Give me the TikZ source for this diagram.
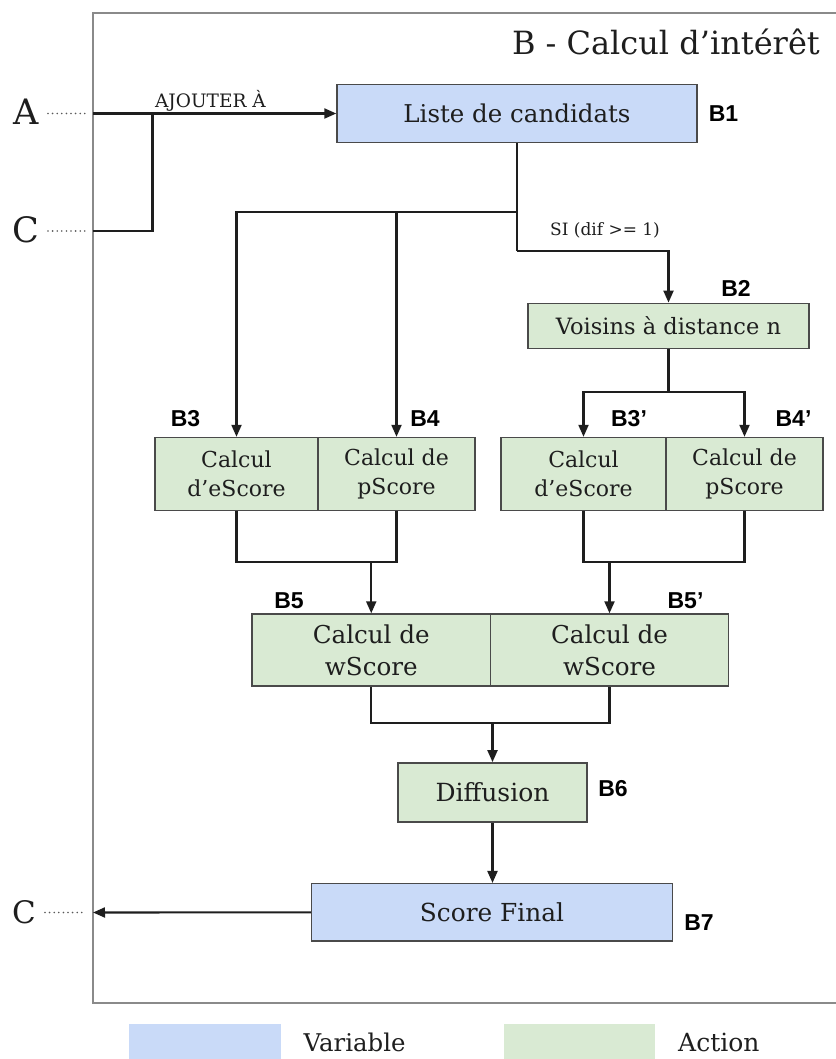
\documentclass[tikz,border=0pt]{standalone}
\usepackage{fontspec}
\setmainfont{DejaVu Serif}
\newfontfamily\labfont{Liberation Sans}
\usetikzlibrary{arrows.meta}
\definecolor{varblue}{HTML}{C9DAF8}
\definecolor{actgreen}{HTML}{D9EAD3}
\definecolor{edgegray}{HTML}{4A4A4A}
\definecolor{framegray}{HTML}{8A8A8A}
\definecolor{inkc}{HTML}{1E1E1E}
\begin{document}
\begin{tikzpicture}[x=1pt,y=-1pt,
  box/.style={draw=edgegray, line width=1.4pt, inner sep=0pt, align=center, text=inkc},
  varbox/.style={box, fill=varblue},
  actbox/.style={box, fill=actgreen},
  tag/.style={font=\labfont\bfseries\fontsize{23}{23}\selectfont, text=black, inner sep=0pt},
  conn/.style={line width=2.1pt, draw=inkc},
  arr/.style={conn, -{Triangle[length=12pt,width=10pt]}},
  dots/.style={line width=1.8pt, line cap=round, dash pattern=on 0pt off 4.6pt, draw=black!65},
  big/.style={font=\fontsize{35}{35}\selectfont, text=inkc, inner sep=0pt},
  small/.style={font=\fontsize{17}{17}\selectfont, text=inkc, inner sep=0pt},
]
\useasboundingbox (0,0) rectangle (835,1059);

% frame
\draw[framegray, line width=2pt] (850,13) -- (93,13) -- (93,1003) -- (850,1003);

% title
\node[anchor=base east, font=\fontsize{32}{32}\selectfont, text=inkc, inner sep=0pt] (title) at (820,55) {B - Calcul d’intérêt};

% external letters
\node[big, anchor=base] (A) at (26,125) {A};
\node[big, anchor=base] (Ctop) at (26,243) {C};
\node[big, anchor=base, font=\fontsize{31}{31}\selectfont] (Cbot) at (24,923.5) {C};
\coordinate (aIn) at (93,113.5);
\coordinate (cIn) at (93,231);
\coordinate (cOut) at (93,912.5);
\draw[dots] (48,113.5) -- (87,113.5);
\draw[dots] (48,231) -- (87,231);
\draw[dots] (45,912.5) -- (84,912.5);

% boxes
\node[varbox, minimum width=360pt, minimum height=58pt, font=\fontsize{24.5}{29}\selectfont] (B1) at (517,113.5) {Liste de candidats};
\node[actbox, minimum width=281pt, minimum height=45pt, font=\fontsize{22.5}{27}\selectfont] (B2) at (668.5,325.8) {Voisins à distance n};
\node[actbox, minimum width=163pt, minimum height=73pt, font=\fontsize{22}{29}\selectfont] (B3) at (236.5,474) {Calcul\\d’eScore};
\node[actbox, minimum width=157pt, minimum height=73pt, font=\fontsize{22}{29}\selectfont] (B4) at (396.5,474) {Calcul de\\pScore};
\node[actbox, minimum width=165pt, minimum height=73pt, font=\fontsize{22}{29}\selectfont] (B3p) at (583.5,474) {Calcul\\d’eScore};
\node[actbox, minimum width=157pt, minimum height=73pt, font=\fontsize{22}{29}\selectfont] (B4p) at (744.5,474) {Calcul de\\pScore};
\node[actbox, minimum width=238.5pt, minimum height=72pt, font=\fontsize{24.6}{32}\selectfont] (B5) at (371.25,650) {Calcul de\\wScore};
\node[actbox, minimum width=238pt, minimum height=72pt, font=\fontsize{24.6}{32}\selectfont] (B5p) at (609.5,650) {Calcul de\\wScore};
\node[actbox, minimum width=189pt, minimum height=59pt, font=\fontsize{25}{30}\selectfont] (B6) at (492.5,792.3) {Diffusion};
\node[varbox, minimum width=361pt, minimum height=57.3pt, font=\fontsize{24.8}{30}\selectfont] (B7) at (492,912.3) {Score Final};

% tags
\node[tag] (tB1) at (723.5,113.5) {B1};
\node[tag] (tB2) at (736,288) {B2};
\node[tag] (tB3) at (185.5,419) {B3};
\node[tag] (tB4) at (425,419) {B4};
\node[tag] (tB3p) at (629,418.5) {B3’};
\node[tag] (tB4p) at (793.5,418.5) {B4’};
\node[tag] (tB5) at (289,601) {B5};
\node[tag] (tB5p) at (685.5,601) {B5’};
\node[tag] (tB6) at (613,789) {B6};
\node[tag] (tB7) at (699,923) {B7};

% inputs
\coordinate (jA) at (152.5,113.5);
\draw[arr] (aIn) -- (B1.west);
\draw[conn] (cIn) -| (jA);
\node[small, anchor=base, font=\fontsize{18.5}{18.5}\selectfont] (ajout) at (210.4,107.3) {AJOUTER À};

% from B1
\coordinate (j1) at (517,212.3);
\coordinate (j2) at (517,251.3);
\draw[conn] (B1.south) -- (j2);
\draw[arr] (j2) -| (B2.north);
\draw[arr] (j1) -| (B3.north);
\draw[arr] (j1) -| (B4.north);
\node[small, anchor=base] (si) at (605,236) {SI (dif >= 1)};

% from B2
\coordinate (j3) at (668.5,392.3);
\draw[conn] (B2.south) -- (j3);
\draw[arr] (j3) -| (B3p.north);
\draw[arr] (j3) -| (B4p.north);

% to B5 / B5'
\coordinate (jL) at (371.25,561.7);
\coordinate (jR) at (609.5,561.7);
\draw[conn] (B3.south) |- (jL) -| (B4.south);
\draw[arr] (jL) -- (B5.north);
\draw[conn] (B3p.south) |- (jR) -| (B4p.south);
\draw[arr] (jR) -- (B5p.north);

% to B6
\coordinate (jM) at (492.5,723.3);
\draw[conn] (B5.south) |- (jM) -| (B5p.south);
\draw[arr] (jM) -- (B6.north);
\draw[arr] (B6.south) -- (B6.south |- B7.north);
\draw[arr] (B7.west) -- (cOut);

% legend
\fill[varblue] (129,1024) rectangle (280.6,1059);
\fill[actgreen] (504,1024) rectangle (655,1059);
\node[anchor=base west, font=\fontsize{24.4}{24.4}\selectfont, text=inkc, inner sep=0pt] (lv) at (303.5,1051.5) {Variable};
\node[anchor=base west, font=\fontsize{25}{25}\selectfont, text=inkc, inner sep=0pt] (la) at (678,1051.5) {Action};
\end{tikzpicture}
\end{document}
